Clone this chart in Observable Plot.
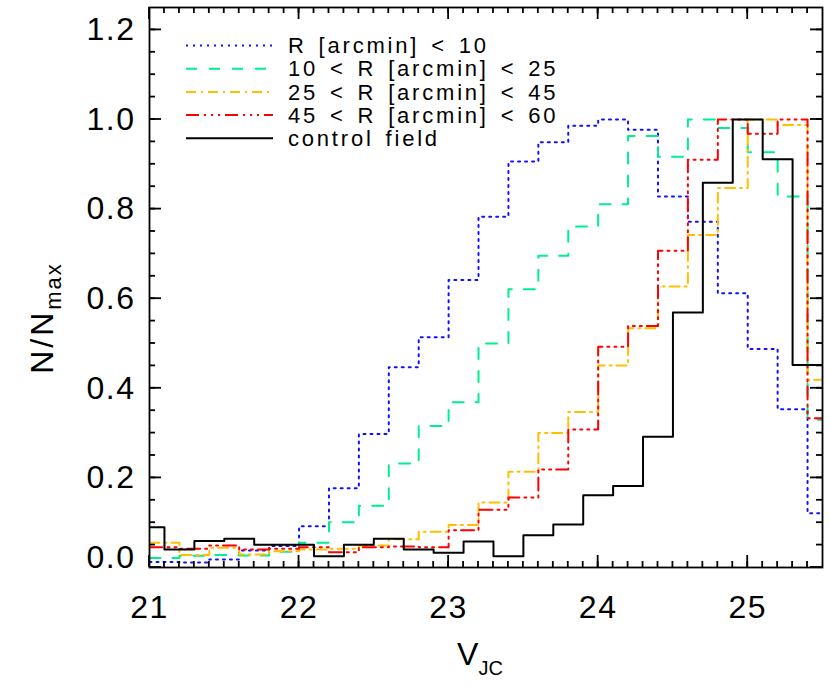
<!DOCTYPE html>
<html><head><meta charset="utf-8">
<script src="https://cdn.jsdelivr.net/npm/d3@7"></script>
<script src="https://cdn.jsdelivr.net/npm/@observablehq/plot@0.6"></script>
<style>
html,body{margin:0;padding:0;background:#fff;overflow:hidden}
svg{display:block}
</style>
</head><body><div id="chart"></div>
<script>
// ---- data ----
const binWidth = 0.2;
const radialBinStart = 21.0;   // first lower bin edge of the four radial samples
const controlBinStart = 20.9;  // first lower bin edge of the control field

const seriesLabels = [
  "R [arcmin] < 10",
  "10 < R [arcmin] < 25",
  "25 < R [arcmin] < 45",
  "45 < R [arcmin] < 60",
  "control field"
];

const r0to10 = [0.012, 0.011, 0.018, 0.038, 0.048, 0.092, 0.177, 0.298, 0.447, 0.514, 0.642, 0.783,
  0.906, 0.949, 0.986, 1.000, 0.977, 0.828, 0.772, 0.612, 0.488, 0.353, 0.121];
const r10to25 = [0.021, 0.026, 0.028, 0.027, 0.035, 0.055, 0.101, 0.138, 0.232, 0.316, 0.369, 0.500,
  0.621, 0.696, 0.761, 0.811, 0.963, 0.917, 1.000, 0.981, 0.927, 0.828, 0.330];
const r25to45 = [0.055, 0.028, 0.044, 0.029, 0.036, 0.040, 0.042, 0.049, 0.063, 0.080, 0.095, 0.145,
  0.214, 0.300, 0.347, 0.451, 0.534, 0.627, 0.742, 0.847, 1.000, 0.988, 0.419];
const r45to60 = [0.045, 0.042, 0.049, 0.040, 0.042, 0.045, 0.034, 0.045, 0.047, 0.045, 0.083, 0.129,
  0.156, 0.219, 0.308, 0.493, 0.539, 0.707, 0.910, 1.000, 0.968, 1.000, 0.333];
const controlField = [0.090, 0.040, 0.059, 0.064, 0.051, 0.051, 0.025, 0.051, 0.064, 0.040, 0.033, 0.058,
  0.025, 0.072, 0.096, 0.161, 0.182, 0.292, 0.569, 0.859, 1.000, 0.911, 0.452];

const xTickLabels = [21, 22, 23, 24, 25];
const yTickLabels = [0.0, 0.2, 0.4, 0.6, 0.8, 1.0, 1.2];

// ---- styles ----
const W = 830, H = 692;
const mL = 149, mR = 8, mT = 7, mB = 125;
const xDomain = [21, 25.5], yDomain = [0, 1.25];
const majorLen = 12, minorLen = 6;
const FONT = "'Liberation Sans', Arial, Helvetica, sans-serif";

const styles = [
  {stroke: "#1010ff", dash: "2,5"},
  {stroke: "#00ee90", dash: "11,12"},
  {stroke: "#ffbf00", dash: "10,5,2,5"},
  {stroke: "#ff0000", dash: "13,5,2,5,2,5,2,5"},
  {stroke: "#000000", dash: null}
];

function stepPoints(start, values) {
  const pts = values.map((v, i) => ({x: start + i * binWidth, y: v}));
  pts.push({x: start + values.length * binWidth, y: values[values.length - 1]});
  return pts;
}

const series = [
  stepPoints(radialBinStart, r0to10),
  stepPoints(radialBinStart, r10to25),
  stepPoints(radialBinStart, r25to45),
  stepPoints(radialBinStart, r45to60),
  stepPoints(controlBinStart, controlField)
];

const xMinor = d3.range(211, 255).map(d => d / 10);
const yMinor = d3.range(1, 25).map(d => d * 0.05);

const lineMarks = series.map((pts, i) => Plot.line(pts, {
  x: "x", y: "y", curve: "step-after", clip: true,
  stroke: styles[i].stroke, strokeWidth: 2,
  strokeDasharray: styles[i].dash || undefined
}));

const chartSvg = Plot.plot({
  width: W, height: H,
  marginLeft: mL, marginRight: mR, marginTop: mT, marginBottom: mB,
  style: {fontFamily: FONT, background: "white", color: "black", overflow: "visible"},
  x: {domain: xDomain, label: null},
  y: {domain: yDomain, label: null},
  marks: [
    ...lineMarks,
    Plot.frame({stroke: "black", strokeWidth: 1.8}),
    Plot.axisX(xTickLabels, {tickSize: 0, tickPadding: 28, fontSize: 32, tickFormat: d => String(d), label: null}),
    Plot.axisY(yTickLabels.filter(d => d > 0), {tickSize: 0, tickPadding: 14, fontSize: 32, tickFormat: d3.format(".1f"), label: null}),
    Plot.axisY([0], {tickSize: 0, tickPadding: 14, fontSize: 32, dy: -10, tickFormat: d3.format(".1f"), label: null})
  ]
});

const sel = d3.select(chartSvg);
sel.selectAll("text").style("letter-spacing", "1.5px");

// inward ticks on all four sides, positioned through the plot's own scales
const scaleX = chartSvg.scale("x"), scaleY = chartSvg.scale("y");
const pxLeft = scaleX.apply(xDomain[0]), pxRight = scaleX.apply(xDomain[1]);
const pxBottom = scaleY.apply(yDomain[0]), pxTop = scaleY.apply(yDomain[1]);
const tickGroup = sel.append("g").attr("stroke", "black").attr("stroke-width", 1.8);
function drawTicksX(vals, len) {
  vals.forEach(v => {
    const px = scaleX.apply(v);
    tickGroup.append("line").attr("x1", px).attr("x2", px).attr("y1", pxBottom).attr("y2", pxBottom - len);
    tickGroup.append("line").attr("x1", px).attr("x2", px).attr("y1", pxTop).attr("y2", pxTop + len);
  });
}
function drawTicksY(vals, len) {
  vals.forEach(v => {
    const py = scaleY.apply(v);
    tickGroup.append("line").attr("y1", py).attr("y2", py).attr("x1", pxLeft).attr("x2", pxLeft + len);
    tickGroup.append("line").attr("y1", py).attr("y2", py).attr("x1", pxRight).attr("x2", pxRight - len);
  });
}
drawTicksX(xMinor, minorLen); drawTicksX(xTickLabels, majorLen);
drawTicksY(yMinor, minorLen); drawTicksY(yTickLabels, majorLen);

// legend
const legendGroup = sel.append("g").attr("font-family", FONT).attr("font-size", 22).attr("text-anchor", "start");
seriesLabels.forEach((lab, i) => {
  const ly = 45.5 + 23.2 * i;
  legendGroup.append("line").attr("x1", 186).attr("x2", 273).attr("y1", ly).attr("y2", ly)
    .attr("stroke", styles[i].stroke).attr("stroke-width", 2)
    .attr("stroke-dasharray", styles[i].dash || null);
  legendGroup.append("text").attr("x", 288).attr("y", ly).attr("dy", "0.35em")
    .attr("text-anchor", "start")
    .style("letter-spacing", "2.8px").style("word-spacing", "3px")
    .attr("fill", "black").text(lab);
});

// x-axis title V_JC
const xTitle = sel.append("text").attr("font-family", FONT).attr("font-size", 32)
  .attr("x", 480).attr("y", 665).attr("text-anchor", "middle").attr("fill", "black");
xTitle.append("tspan").text("V");
xTitle.append("tspan").attr("font-size", 20).attr("dy", 10).text("JC");

// y-axis title N/N_max
const yTitle = sel.append("text").attr("font-family", FONT).attr("font-size", 32)
  .attr("transform", "translate(53,318) rotate(-90)").attr("text-anchor", "middle").attr("fill", "black");
yTitle.append("tspan").style("letter-spacing", "3px").text("N/N");
yTitle.append("tspan").attr("font-size", 22).attr("dy", 8).style("letter-spacing", "2px").text("max");

document.getElementById("chart").appendChild(chartSvg);
</script>
</body></html>
